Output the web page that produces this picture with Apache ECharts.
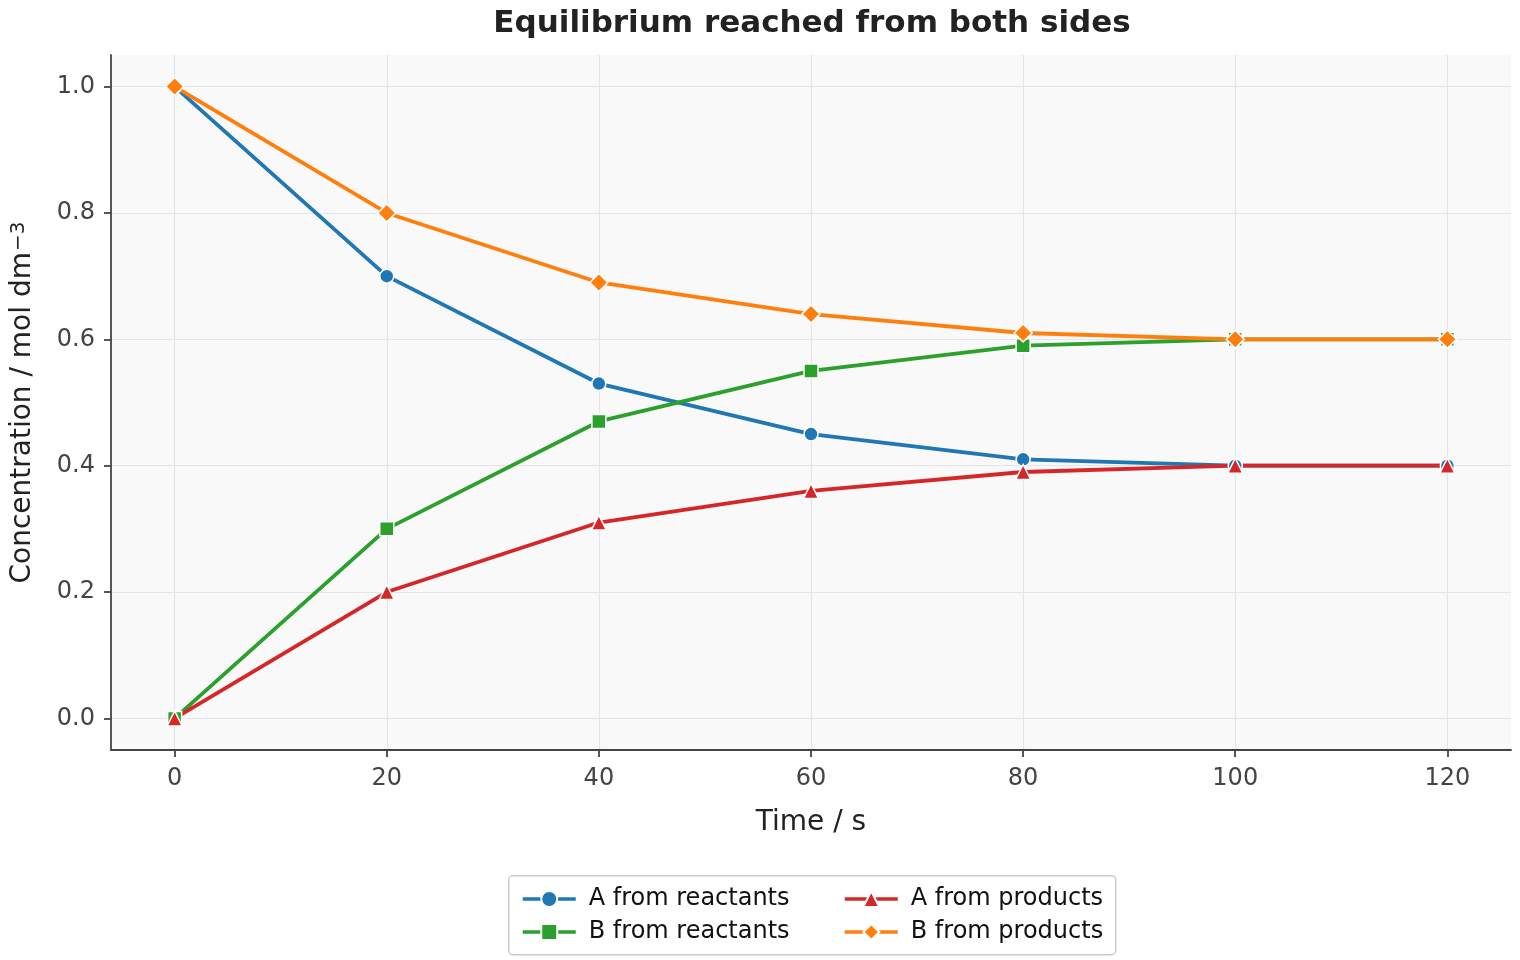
<!DOCTYPE html>
<html>
<head>
<meta charset="utf-8">
<script src="https://cdn.jsdelivr.net/npm/echarts@6/dist/echarts.min.js"></script>
<style>
  html, body { margin: 0; padding: 0; background: #fff; }
  #chart { width: 1520px; height: 960px; }
</style>
</head>
<body>
<div id="chart"></div>
<script>
// time points (s)
const times = [0, 20, 40, 60, 80, 100, 120]
const aFromReactants = [1.0, 0.70, 0.53, 0.45, 0.41, 0.40, 0.40]
const bFromReactants = [0.0, 0.30, 0.47, 0.55, 0.59, 0.60, 0.60]
const aFromProducts = [0.0, 0.20, 0.31, 0.36, 0.39, 0.40, 0.40]
const bFromProducts = [1.0, 0.80, 0.69, 0.64, 0.61, 0.60, 0.60]
const xTicks = [0, 20, 40, 60, 80, 100, 120]
const yTicks = [0, 0.2, 0.4, 0.6, 0.8, 1.0]

const FONT = 'DejaVu Sans'
const axisColor = '#444'

const chart = echarts.init(document.getElementById('chart'))

const pairs = vals => times.map((t, i) => [t, vals[i]])

const mkSeries = (name, vals, color, symbol, size) => ({
  type: 'line', name,
  data: pairs(vals),
  symbol, symbolSize: size,
  showAllSymbol: true,
  lineStyle: { width: 3.8, color },
  itemStyle: { color, borderColor: '#fff', borderWidth: 1.5 },
  emphasis: { disabled: true },
  animation: false,
})

const legendText = { fontFamily: FONT, fontSize: 24, color: '#111', padding: [0, 0, 0, 8] }
const legendCommon = {
  orient: 'vertical', top: 882,
  itemWidth: 53, itemHeight: 20, itemGap: 9,
  lineStyle: { width: 3.5 },
  textStyle: legendText,
}

chart.setOption({
  textStyle: { fontFamily: FONT },
  title: {
    text: 'Equilibrium reached from both sides',
    left: 807, top: 3, textAlign: 'center',
    textStyle: { fontFamily: FONT, fontSize: 31, fontWeight: 'bold', color: '#222' },
  },
  grid: {
    left: 111, right: 9, top: 55, bottom: 210,
    show: true, backgroundColor: '#f9f9f9', borderWidth: 0,
  },
  xAxis: {
    type: 'value', min: -6, max: 126,
    name: 'Time / s', nameLocation: 'middle', nameGap: 59,
    nameTextStyle: { fontFamily: FONT, fontSize: 28, color: '#222' },
    axisLine: { show: true, onZero: false, lineStyle: { color: axisColor, width: 1.8 } },
    axisTick: { show: true, length: 7, customValues: xTicks, lineStyle: { color: axisColor, width: 1.8 } },
    axisLabel: { customValues: xTicks, color: axisColor, fontSize: 24, margin: 17 },
    splitLine: { show: true, lineStyle: { color: '#e3e5ea', width: 1.2 } },
  },
  yAxis: {
    type: 'value', min: -0.05, max: 1.05,
    name: 'Concentration / mol dm{sup|\u22123}', nameLocation: 'middle', nameGap: 74,
    nameTextStyle: {
      fontFamily: FONT, fontSize: 28, color: '#222',
      rich: { sup: { fontFamily: FONT, fontSize: 20, color: '#222', verticalAlign: 'top', lineHeight: 22, padding: [0, 0, 10, 1] } },
    },
    axisLine: { show: true, onZero: false, lineStyle: { color: axisColor, width: 1.8 } },
    axisTick: { show: true, length: 7, customValues: yTicks, lineStyle: { color: axisColor, width: 1.8 } },
    axisLabel: { customValues: yTicks, color: axisColor, fontSize: 24, margin: 16, formatter: v => v.toFixed(1) },
    splitLine: { show: true, lineStyle: { color: '#e3e5ea', width: 1.2 } },
  },
  legend: [
    Object.assign({ data: ['A from reactants', 'B from reactants'], left: 516 }, legendCommon),
    Object.assign({ data: ['A from products', 'B from products'], left: 838 }, legendCommon),
  ],
  graphic: [{
    type: 'rect', left: 508, top: 875,
    shape: { width: 607, height: 79, r: 4 },
    style: { fill: '#fff', stroke: '#ccc', lineWidth: 1.5 },
    z: -1,
  }],
  series: [
    mkSeries('A from reactants', aFromReactants, '#1f77b4', 'circle', 14),
    mkSeries('B from reactants', bFromReactants, '#2ca02c', 'rect', 14),
    mkSeries('A from products', aFromProducts, '#d62728', 'triangle', 15),
    mkSeries('B from products', bFromProducts, '#ff7f0e', 'diamond', 18),
  ],
})
</script>
</body>
</html>
